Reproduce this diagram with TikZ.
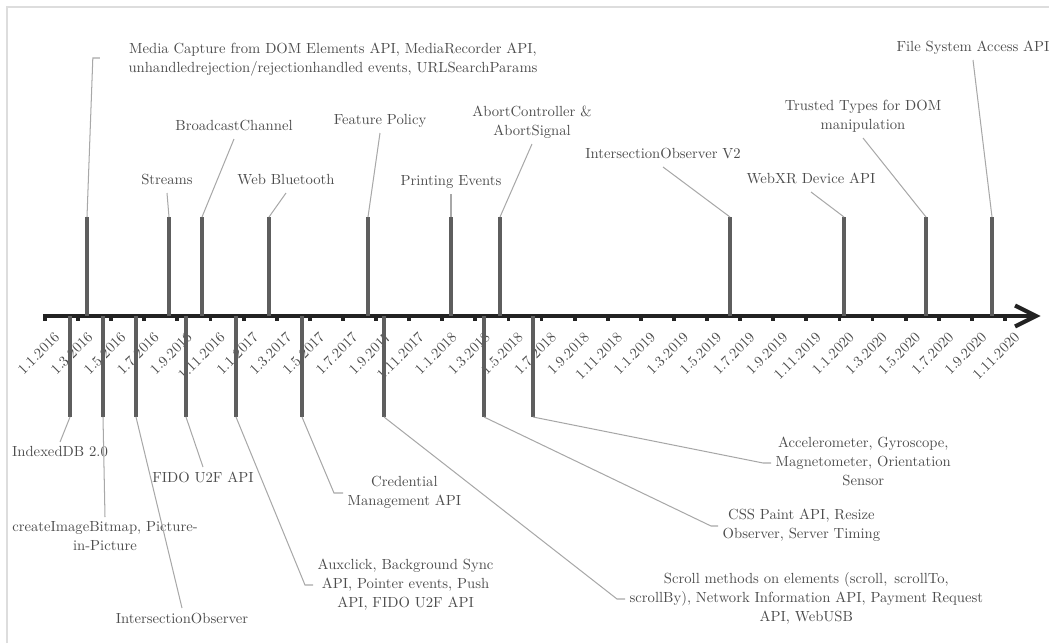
\documentclass[tikz,border=0pt]{standalone}
\usetikzlibrary{calc}
\definecolor{axisc}{HTML}{222222}
\definecolor{barc}{HTML}{5E5E5E}
\definecolor{txtc}{HTML}{4C4C4C}
\definecolor{leadc}{HTML}{A8A8A8}
\definecolor{framec}{HTML}{DDDDDD}
\begin{document}
\begin{tikzpicture}[x=0.6822pt,y=-0.6822pt,
  axisline/.style={line width=2.8pt,draw=axisc},
  tickmark/.style={line width=2.6pt,draw=axisc},
  eventbar/.style={line width=3pt,draw=barc},
  leader/.style={line width=0.7pt,draw=leadc},
  evlabel/.style={text=txtc,font=\fontsize{10}{13}\selectfont,align=center,inner sep=3pt,text depth=2.5pt},
  datelabel/.style={text=txtc,font=\fontsize{10}{13}\selectfont,rotate=45,anchor=north east,inner sep=0pt},
]
\useasboundingbox (0,0) rectangle (1049,643);
% frame
\draw[framec,line width=1.2pt] (7,643) -- (7,7) -- (1049,7);

% time axis
\coordinate (start) at (43,316);
\coordinate (tip) at (1036,316);
\draw[axisline] (start) -- (tip);
\draw[axisline,line join=miter] ($(tip)+(-21,-10.5)$) -- (tip) -- ($(tip)+(-21,10.5)$);

% ticks and dates, every two months
\foreach \d [count=\i from 0] in {1.1.2016,1.3.2016,1.5.2016,1.7.2016,1.9.2016,1.11.2016,
  1.1.2017,1.3.2017,1.5.2017,1.7.2017,1.9.2017,1.11.2017,
  1.1.2018,1.3.2018,1.5.2018,1.7.2018,1.9.2018,1.11.2018,
  1.1.2019,1.3.2019,1.5.2019,1.7.2019,1.9.2019,1.11.2019,
  1.1.2020,1.3.2020,1.5.2020,1.7.2020,1.9.2020,1.11.2020} {
  \coordinate (k\i) at (45+\i*33.1,316);
  \draw[tickmark] (k\i) -- ++(0,5);
  \node[datelabel] (d\i) at ($(k\i)+(8.5,15)$) {\d};
}

% events above the axis
\foreach \n/\x in {t1/87,t2/169,t3/202,t4/269,t5/368,t6/451,t7/500,t8/730,t9/844,t10/926,t11/992} {
  \coordinate (\n) at (\x,217);
  \draw[eventbar] (\n) -- (\n |- start);
}
% events below the axis
\foreach \n/\x in {b1/70,b2/103,b3/136,b4/186,b5/236,b6/302,b7/384,b8/484,b9/533} {
  \coordinate (\n) at (\x,417);
  \draw[eventbar] (\n) -- (\n |- start);
}

% labels above
\node[evlabel] (mc) at (333,60)
  {Media Capture from DOM Elements API, MediaRecorder API,\\unhandledrejection/rejectionhandled events, URLSearchParams};
\coordinate (mcend) at ($(mc.west)+(-24,-2)$);
\node[evlabel,anchor=south] (streams) at (167,193) {Streams};
\node[evlabel,anchor=south] (bc) at (234,139) {BroadcastChannel};
\node[evlabel,anchor=south] (wb) at (286,193) {Web Bluetooth};
\node[evlabel,anchor=south] (fp) at (380,133) {Feature Policy};
\node[evlabel,anchor=south] (pe) at (451,194) {Printing Events};
\node[evlabel,anchor=south] (ac) at (532,144) {AbortController \&\\AbortSignal};
\node[evlabel,anchor=south] (io2) at (663,167) {IntersectionObserver V2};
\node[evlabel,anchor=south] (xr) at (811,192) {WebXR Device API};
\node[evlabel,anchor=south] (tt) at (863,138) {Trusted Types for DOM\\manipulation};
\node[evlabel,anchor=south] (fs) at (973,60) {File System Access API};

\draw[leader] (t1) -- ($(mcend)+(-7,0)$) -- (mcend);
\draw[leader] (t2) -- (streams.south);
\draw[leader] (t3) -- (bc.south);
\draw[leader] (t4) -- (wb.south);
\draw[leader] (t5) -- (fp.south);
\draw[leader] (t6) -- (pe.south);
\draw[leader] (t7) -- (ac.south);
\draw[leader] (t8) -- (io2.south);
\draw[leader] (t9) -- (xr.south);
\draw[leader] (t10) -- (tt.south);
\draw[leader] (t11) -- (fs.south);

% labels below
\node[evlabel,anchor=north] (idb) at (60,442) {IndexedDB 2.0};
\node[evlabel,anchor=north] (cib) at (105,517) {createImageBitmap, Picture-\\in-Picture};
\node[evlabel,anchor=north] (io) at (182,608) {IntersectionObserver};
\node[evlabel,anchor=north] (fido) at (203,467) {FIDO U2F API};
\node[evlabel,anchor=west] (aux) at (313,585) {Auxclick, Background Sync\\API, Pointer events, Push\\API, FIDO U2F API};
\node[evlabel,anchor=west] (cred) at (343,493) {Credential\\Management API};
\node[evlabel,anchor=west] (scr) at (625,599) {Scroll methods on elements (scroll,\hspace{4.8pt}scrollTo,\\scrollBy), Network Information API, Payment Request\\API, WebUSB};
\node[evlabel,anchor=west] (css) at (718,526) {CSS Paint API, Resize\\Observer, Server Timing};
\node[evlabel,anchor=west] (acc) at (771,463) {Accelerometer, Gyroscope,\\Magnetometer, Orientation\\Sensor};

\draw[leader] (b1) -- (idb.north);
\draw[leader] (b2) -- (cib.north);
\draw[leader] (b3) -- (io.north);
\draw[leader] (b4) -- (fido.north);
\draw[leader] (b5) -- ($(aux.west)+(-8,0)$) -- (aux.west);
\draw[leader] (b6) -- ($(cred.west)+(-9,0)$) -- (cred.west);
\draw[leader] (b7) -- ($(scr.west)+(-8,0)$) -- (scr.west);
\draw[leader] (b8) -- ($(css.west)+(-7,0)$) -- (css.west);
\draw[leader] (b9) -- ($(acc.west)+(-8,0)$) -- (acc.west);
\end{tikzpicture}
\end{document}
